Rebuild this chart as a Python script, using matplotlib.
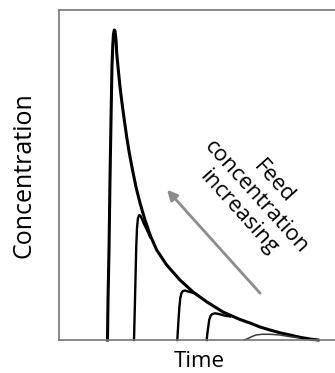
import matplotlib.pyplot as plt

plt.rcParams['font.family'] = ['Open Sans', 'DejaVu Sans']

# largest feed: sharp front then long tail (the envelope)
env_t = [17.32, 17.50, 17.86, 18.21, 18.57, 18.93, 19.21, 19.46, 19.75, 20.00,
         20.36, 20.61, 21.18, 21.79, 22.50, 23.32, 24.18, 25.11, 26.25, 27.50,
         28.93, 30.71, 32.68, 34.89, 38.46, 43.21, 47.86, 52.75, 58.57, 64.64,
         68.21, 71.79, 75.36, 78.93, 82.50, 86.07, 89.64, 92.50]
env_c = [0.0, 12.12, 27.27, 48.48, 66.67, 83.33, 89.39, 92.73, 93.94, 93.64,
         90.91, 86.97, 81.82, 76.67, 71.82, 66.67, 61.52, 56.67, 51.52, 46.36,
         41.52, 36.36, 31.52, 27.27, 22.73, 18.18, 14.55, 11.58, 8.48, 6.21,
         5.15, 3.94, 3.03, 2.18, 1.52, 0.82, 0.30, 0.0]

# lower feed concentrations, each running into the envelope
p2_t = [26.79, 27.14, 27.39, 27.61, 27.86, 28.21, 28.68, 29.11, 29.64, 30.36, 31.43, 32.50]
p2_c = [0.0, 12.12, 21.21, 28.79, 33.94, 36.97, 37.88, 37.58, 36.67, 35.15, 33.33, 31.21]

p3_t = [42.25, 42.68, 42.96, 43.32, 43.75, 44.29, 45.00, 46.07, 47.50]
p3_c = [0.0, 6.06, 9.70, 12.73, 14.24, 14.85, 15.00, 14.70, 14.39]

p4_t = [52.75, 53.04, 53.32, 53.64, 54.11, 54.64, 55.71, 57.14, 58.93, 61.07]
p4_c = [0.0, 2.42, 4.03, 6.06, 7.27, 7.79, 8.09, 7.88, 7.42, 7.12]

p5_t = [66.07, 67.50, 68.93, 70.36, 72.50, 75.36, 78.93, 82.50, 85.36]
p5_c = [0.0, 0.45, 1.06, 1.52, 1.73, 1.73, 1.52, 1.00, 0.67]

fig = plt.figure(figsize=(3.35, 3.73), dpi=100)
ax = fig.add_axes([59 / 335, 33 / 373, 280 / 335, 330 / 373])

ax.plot(env_t, env_c, color='black', lw=2.2, solid_joinstyle='round', clip_on=False)
for t, c in [(p2_t, p2_c), (p3_t, p3_c), (p4_t, p4_c)]:
    ax.plot(t, c, color='black', lw=1.7, solid_joinstyle='round', clip_on=False)
ax.plot(p5_t, p5_c, color='#3a3a3a', lw=1.1, clip_on=False)

# arrow showing the direction of increasing feed
ax.annotate('', xy=(38.6, 45.5), xytext=(71.8, 14.2),
            arrowprops=dict(arrowstyle='-|>', color='#8c8c8c', lw=2.0,
                            mutation_scale=15, shrinkA=0, shrinkB=0))
ax.text(70.4, 43.3, 'Feed\nconcentration\nincreasing', rotation=-48,
        rotation_mode='anchor', ha='center', va='center', multialignment='center',
        fontsize=16, linespacing=1.15)

ax.set_xlim(0, 100)
ax.set_ylim(0, 100)
ax.set_xticks([])
ax.set_yticks([])
for s in ax.spines.values():
    s.set_color('#767676')
    s.set_linewidth(1.2)

ax.set_xlabel('Time', fontsize=16, labelpad=8)
ax.set_ylabel('Concentration', fontsize=18, labelpad=16)

fig.savefig('out.png', dpi=100)
